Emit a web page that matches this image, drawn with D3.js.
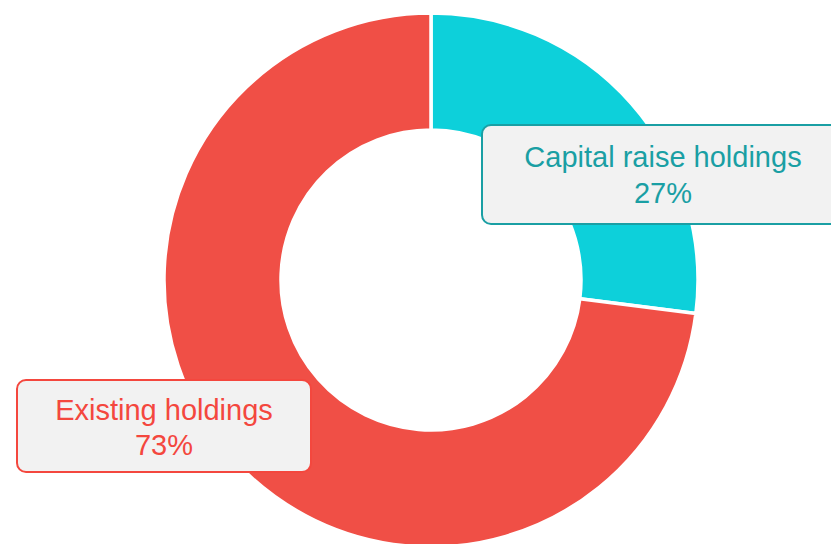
<!DOCTYPE html>
<html lang="en">
<head>
    <meta charset="UTF-8">
    <title>Holdings donut</title>
    <script src="https://d3js.org/d3.v7.min.js"></script>
    <style>
        body { margin: 0; background: #fff; }
        .label { font-family: "Liberation Sans", Arial, sans-serif; font-size: 29px; text-anchor: middle; }
    </style>
</head>
<body>
    <script>
        // Data
        const categories = ["Capital raise holdings", "Existing holdings"];
        const values = [27, 73];
        const colors = ["#0dd0da", "#f04f46"];
        const textColors = ["#1a9fa4", "#f4473e"];

        const width = 831;
        const height = 544;
        const cx = 431, cy = 280;
        const outerR = 267, innerR = 150;

        const svg = d3.select("body")
            .append("svg")
            .attr("width", width)
            .attr("height", height);

        const pie = d3.pie().sort(null).value(d => d.value);
        const arc = d3.arc().innerRadius(innerR).outerRadius(outerR);

        const slices = pie(categories.map((c, i) => ({ name: c, value: values[i], i })));

        const g = svg.append("g").attr("transform", `translate(${cx},${cy})`);

        g.selectAll("path")
            .data(slices)
            .enter()
            .append("path")
            .attr("d", arc)
            .attr("fill", d => colors[d.data.i])
            .attr("stroke", "#fff")
            .attr("stroke-width", 3.5);

        // Label boxes (callouts)
        const boxes = [
            { x: 482, y: 125, w: 360, h: 99, tx: 663 },
            { x: 17, y: 380, w: 294, h: 92, tx: 164 }
        ];

        const lab = svg.selectAll(".callout")
            .data(slices)
            .enter()
            .append("g")
            .attr("class", "callout");

        lab.append("rect")
            .attr("x", d => boxes[d.data.i].x)
            .attr("y", d => boxes[d.data.i].y)
            .attr("width", d => boxes[d.data.i].w)
            .attr("height", d => boxes[d.data.i].h)
            .attr("rx", 9)
            .attr("fill", "#f2f2f2")
            .attr("stroke", d => textColors[d.data.i])
            .attr("stroke-width", 2);

        const t = lab.append("text")
            .attr("class", "label")
            .attr("fill", d => textColors[d.data.i]);

        t.append("tspan")
            .attr("x", d => boxes[d.data.i].tx)
            .attr("y", d => boxes[d.data.i].y + (d.data.i === 0 ? 42 : 40))
            .text(d => d.data.name);

        t.append("tspan")
            .attr("x", d => boxes[d.data.i].tx)
            .attr("y", d => boxes[d.data.i].y + (d.data.i === 0 ? 78 : 75))
            .text(d => d.data.value + "%");
    </script>
</body>
</html>
